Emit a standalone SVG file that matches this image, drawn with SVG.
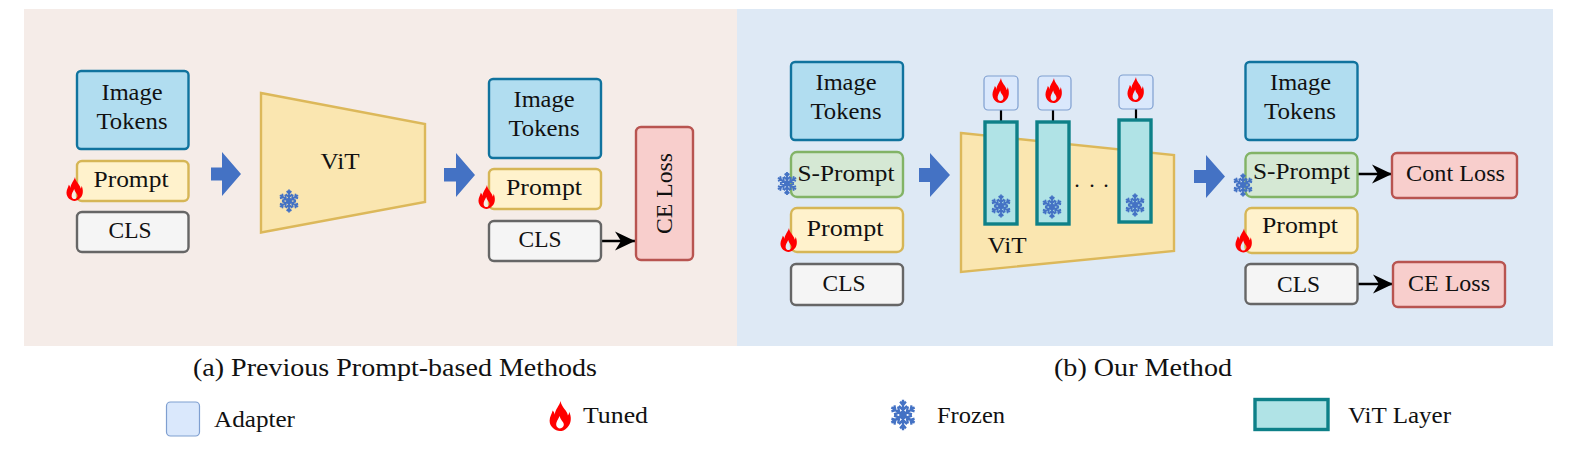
<svg xmlns="http://www.w3.org/2000/svg" xmlns:xlink="http://www.w3.org/1999/xlink" width="1576" height="456" viewBox="0 0 1576 456">
<style>
text{font-family:"Liberation Serif","Times New Roman",serif;font-size:24px;fill:#111;text-anchor:middle}
.cap{font-size:25px}.leg{text-anchor:start}
.b{stroke-width:2.4}
.img{fill:#b1ddf0;stroke:#10739e}.pr{fill:#fff2cc;stroke:#d6b656}.cls{fill:#f5f5f5;stroke:#666}.sp{fill:#d5e8d4;stroke:#82b366}.loss{fill:#f8cecc;stroke:#b85450}
.vit{fill:#fae6b0;stroke:#dcb85a;stroke-width:2.4}
.ad{fill:#dae8fc;stroke:#7f9fd0;stroke-width:1.2}
.lay{fill:#b0e3e6;stroke:#0e8088;stroke-width:3.4}
.arr{fill:#4472c4}
.link{stroke:#000;stroke-width:2.2;fill:none}
.conn{stroke:#000;stroke-width:2.6;fill:none;marker-end:url(#ah)}
</style>
<defs>
<marker id="ah" markerUnits="userSpaceOnUse" markerWidth="22" markerHeight="22" refX="20" refY="10" orient="auto"><path d="M0,0.500 L20,10 L0,19.500 L6,10 Z" fill="#000"/></marker>
<symbol id="flame" viewBox="0 0 18 25" preserveAspectRatio="none" overflow="visible"><path fill="#f00" fill-rule="evenodd" d="M9.500,0 C10,5 15,8 15.500,12 C16,11.500 16.500,10.500 16.500,9 C18.500,13 18.500,19 15,22 C13,24.500 10.500,25 9,25 C5,25 0.500,21.500 0.500,16.500 C0.500,13 2.500,10.500 3,8 C4,9 4.500,10 4.700,11.500 C5,7 8.500,4 9.500,0 Z M8.700,12.500 C7.500,15.500 5.500,17.500 6,20.500 C6.500,22.300 8,23.200 9.800,22.800 C12,22 12.800,19.800 11.500,17.800 C10.500,16 9.200,15 8.700,12.500 Z"/></symbol>
<symbol id="snow" viewBox="-12 -12 24 24" preserveAspectRatio="none" overflow="visible"><g fill="none" stroke="#4472c4" stroke-width="2"><path id="s1" d="M0,-11.500 V11.500 M-2.500,-10 L0,-7.500 L2.500,-10 M-3.500,-6.800 L0,-3.800 L3.500,-6.800 M-2.500,10 L0,7.500 L2.500,10 M-3.500,6.800 L0,3.800 L3.500,6.800"/><use xlink:href="#s1" transform="rotate(60)"/><use xlink:href="#s1" transform="rotate(120)"/></g><circle r="3.200" fill="#4472c4"/></symbol>
</defs>
<rect x="24" y="9" width="713" height="337" fill="#f5ece8"/>
<rect x="737" y="9" width="816" height="337" fill="#dee9f5"/>

<g id="connectors">
<path class="arr" d="M211,167.500 H222 V152 L241,174 L222,196 V180.500 H211 Z"/>
<path class="arr" d="M444,168 H456 V153 L475,175 L456,197 V181.500 H444 Z"/>
<path class="arr" d="M919,168 H930 V153 L950,175 L930,197 V182 H919 Z"/>
<path class="arr" d="M1194,170 H1206 V155 L1225,176.500 L1206,198 V183 H1194 Z"/>
<path class="conn" d="M601,241 H635"/>
<path class="conn" d="M1357,174 H1392"/>
<path class="conn" d="M1357,284 H1393"/>
<path class="link" d="M1001,110 V122 M1053,110 V122 M1136,109 V120"/>
</g>

<g id="a-image"><rect class="b img" x="77" y="71" width="111.500" height="78" rx="4"/><text x="132" y="100" textLength="61" lengthAdjust="spacingAndGlyphs">Image</text><text x="132" y="129" textLength="71" lengthAdjust="spacingAndGlyphs">Tokens</text></g>
<g id="a-prompt"><rect class="b pr" x="77" y="161" width="111.500" height="40" rx="5"/><text x="131" y="187" textLength="75" lengthAdjust="spacingAndGlyphs">Prompt</text><use xlink:href="#flame" x="66" y="177" width="17" height="24"/></g>
<g id="a-cls"><rect class="b cls" x="77" y="212" width="111.500" height="40" rx="5"/><text x="130" y="238" textLength="43" lengthAdjust="spacingAndGlyphs">CLS</text></g>
<g id="a-vit"><path class="vit" d="M261,93 L425,124 V202 L261,232.500 Z"/><text x="340" y="169" textLength="39" lengthAdjust="spacingAndGlyphs">ViT</text><use xlink:href="#snow" x="278" y="189" width="22" height="24"/></g>
<g id="a2-image"><rect class="b img" x="489" y="79" width="112" height="79" rx="4"/><text x="544" y="107" textLength="61" lengthAdjust="spacingAndGlyphs">Image</text><text x="544" y="136" textLength="71" lengthAdjust="spacingAndGlyphs">Tokens</text></g>
<g id="a2-prompt"><rect class="b pr" x="489" y="169" width="112" height="40" rx="5"/><text x="544" y="195" textLength="76" lengthAdjust="spacingAndGlyphs">Prompt</text><use xlink:href="#flame" x="478" y="185" width="17" height="24"/></g>
<g id="a2-cls"><rect class="b cls" x="489" y="221" width="112" height="40" rx="5"/><text x="540" y="247" textLength="43" lengthAdjust="spacingAndGlyphs">CLS</text></g>
<g id="a-loss"><rect class="b loss" x="636" y="127" width="57" height="133" rx="5"/><text transform="translate(672,193.500) rotate(-90)" textLength="81" lengthAdjust="spacingAndGlyphs">CE Loss</text></g>

<g id="b-image"><rect class="b img" x="791" y="62" width="112" height="78" rx="4"/><text x="846" y="90" textLength="61" lengthAdjust="spacingAndGlyphs">Image</text><text x="846" y="119" textLength="71" lengthAdjust="spacingAndGlyphs">Tokens</text></g>
<g id="b-sprompt"><rect class="b sp" x="791" y="152" width="112" height="45" rx="6"/><text x="846" y="181" textLength="97" lengthAdjust="spacingAndGlyphs">S-Prompt</text><use xlink:href="#snow" x="776" y="171.500" width="22" height="24"/></g>
<g id="b-prompt"><rect class="b pr" x="791" y="208" width="112" height="44" rx="6"/><text x="845" y="236" textLength="77" lengthAdjust="spacingAndGlyphs">Prompt</text><use xlink:href="#flame" x="780" y="228" width="17" height="24"/></g>
<g id="b-cls"><rect class="b cls" x="791" y="264" width="112" height="41" rx="5"/><text x="844" y="291" textLength="43" lengthAdjust="spacingAndGlyphs">CLS</text></g>
<g id="b-vit"><path class="vit" d="M961,133 L1174,155 V251 L961,272 Z"/><text x="1007" y="253" textLength="39" lengthAdjust="spacingAndGlyphs">ViT</text></g>
<g id="b-ad1"><rect class="ad" x="984" y="76" width="34" height="34" rx="4"/><use xlink:href="#flame" x="992" y="78" width="17" height="25"/></g>
<g id="b-ad2"><rect class="ad" x="1038" y="76" width="33" height="34" rx="4"/><use xlink:href="#flame" x="1045" y="78" width="17" height="25"/></g>
<g id="b-ad3"><rect class="ad" x="1119" y="75" width="34" height="34" rx="4"/><use xlink:href="#flame" x="1127" y="77" width="17" height="25"/></g>
<g id="b-lay1"><rect class="lay" x="985" y="122" width="32" height="102"/><use xlink:href="#snow" x="990" y="194" width="22" height="24"/></g>
<g id="b-lay2"><rect class="lay" x="1037" y="122" width="32" height="102"/><use xlink:href="#snow" x="1041" y="195" width="22" height="24"/></g>
<g id="b-lay3"><rect class="lay" x="1119" y="120" width="32" height="102"/><use xlink:href="#snow" x="1124" y="193" width="22" height="24"/></g>
<text x="1077 1092 1106" y="187" style="font-size:22px">...</text>

<g id="c-image"><rect class="b img" x="1245.500" y="62" width="112" height="78" rx="4"/><text x="1300.500" y="90" textLength="61" lengthAdjust="spacingAndGlyphs">Image</text><text x="1300" y="119" textLength="72" lengthAdjust="spacingAndGlyphs">Tokens</text></g>
<g id="c-sprompt"><rect class="b sp" x="1245.500" y="153" width="112" height="44" rx="6"/><text x="1301.500" y="179" textLength="97" lengthAdjust="spacingAndGlyphs">S-Prompt</text><use xlink:href="#snow" x="1232" y="173" width="22" height="24"/></g>
<g id="c-prompt"><rect class="b pr" x="1245.500" y="208" width="112" height="45" rx="6"/><text x="1300" y="233" textLength="76" lengthAdjust="spacingAndGlyphs">Prompt</text><use xlink:href="#flame" x="1235" y="228.500" width="17" height="24"/></g>
<g id="c-cls"><rect class="b cls" x="1245.500" y="264" width="112" height="40" rx="5"/><text x="1298.500" y="292" textLength="43" lengthAdjust="spacingAndGlyphs">CLS</text></g>
<g id="c-cont"><rect class="b loss" x="1392" y="153" width="125" height="45" rx="5"/><text x="1455.500" y="181" textLength="99" lengthAdjust="spacingAndGlyphs">Cont Loss</text></g>
<g id="c-ce"><rect class="b loss" x="1393" y="262" width="112" height="45" rx="5"/><text x="1449" y="291" textLength="82" lengthAdjust="spacingAndGlyphs">CE Loss</text></g>

<text class="cap" x="395" y="376" textLength="404" lengthAdjust="spacingAndGlyphs">(a) Previous Prompt-based Methods</text>
<text class="cap" x="1143" y="376" textLength="178" lengthAdjust="spacingAndGlyphs">(b) Our Method</text>
<g id="legend">
<rect x="166.500" y="402" width="33" height="34" rx="4" fill="#dae8fc" stroke="#7f9fd0" stroke-width="1.200"/><text class="leg" x="214" y="427" textLength="81" lengthAdjust="spacingAndGlyphs">Adapter</text>
<use xlink:href="#flame" x="549" y="401" width="22" height="30"/><text class="leg" x="583" y="423" textLength="65" lengthAdjust="spacingAndGlyphs">Tuned</text>
<use xlink:href="#snow" x="889" y="399" width="28" height="32"/><text class="leg" x="937" y="423" textLength="68" lengthAdjust="spacingAndGlyphs">Frozen</text>
<rect x="1255" y="399.500" width="73" height="30" fill="#b0e3e6" stroke="#0e8088" stroke-width="3.400"/><text class="leg" x="1348" y="423" textLength="103" lengthAdjust="spacingAndGlyphs">ViT Layer</text>
</g>
</svg>
